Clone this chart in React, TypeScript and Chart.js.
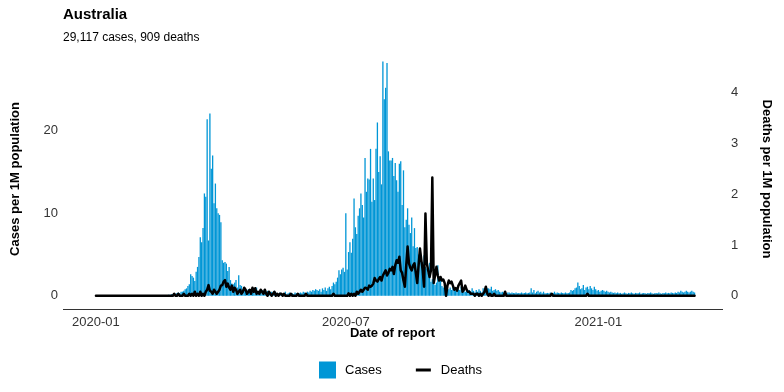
import { useEffect, useRef } from 'react';
import { Chart, registerables } from 'chart.js';

Chart.register(...registerables);

const FONT = '"Liberation Sans", Arial, Helvetica, sans-serif';
const CASE_COLOR = '#0096d6';

const TITLE = 'Australia';
const SUBTITLE = '29,117 cases, 909 deaths';
const X_TITLE = 'Date of report';
const Y_TITLE = 'Cases per 1M population';
const Y1_TITLE = 'Deaths per 1M population';
const SERIES_LABELS = ['Cases', 'Deaths'];

// first data point = 2020-01-01, expressed as days since 2020-01-01
const START_DAY = 0;
const xTickDays = [0, 182, 366];
const xTickLabels = ['2020-01', '2020-07', '2021-01'];
const casesTicks = [0, 10, 20];
const deathsTicks = [0, 1, 2, 3, 4];

// daily cases per 1M population
const cases = [
  0, 0, 0, 0, 0, 0, 0, 0, 0, 0,
  0, 0, 0, 0, 0, 0, 0, 0, 0, 0,
  0, 0, 0, 0, 0.04, 0, 0, 0.04, 0, 0,
  0.04, 0, 0, 0, 0, 0, 0, 0, 0, 0,
  0.04, 0, 0, 0, 0, 0.04, 0, 0, 0, 0.1,
  0.04, 0.08, 0.04, 0.12, 0.08, 0.2, 0.16, 0.3, 0.2, 0.35,
  0.4, 0.3, 0.5, 0.5, 0.6, 0.8, 0.9, 1.2, 1.4, 2.6,
  2.4, 2.2, 1.8, 2.9, 3.5, 4.7, 7.1, 6.5, 8.2, 12.4,
  12.0, 21.4, 6.7, 22.1, 15.4, 17.0, 11.2, 13.6, 10.6, 10.0,
  9.8, 8.9, 4.3, 4.0, 4.1, 3.9, 3.0, 3.5, 1.9, 1.5,
  1.4, 1.6, 1.9, 1.0, 2.5, 1.3, 1.2, 0.8, 0.9, 0.7,
  0.6, 0.8, 0.5, 0.7, 0.4, 0.9, 0.6, 1.0, 0.5, 0.6,
  0.4, 0.7, 0.3, 0.5, 0.4, 0.6, 0.3, 0.4, 0.5, 0.3,
  0.6, 0.4, 0.3, 0.2, 0.4, 0.3, 0.2, 0.3, 0.5, 0.2,
  0.3, 0.4, 0.2, 0.3, 0.2, 0.4, 0.3, 0.2, 0.3, 0.4,
  0.3, 0.5, 0.4, 0.3, 0.5, 0.4, 0.6, 0.5, 0.7, 0.6,
  0.8, 0.7, 0.6, 0.8, 0.5, 0.9, 0.7, 1.0, 0.6, 0.9,
  1.1, 0.8, 1.2, 1.6, 1.4, 1.7, 2.2, 3.1, 2.6, 3.2,
  3.4, 2.9, 10.0, 3.2, 5.3, 6.5, 5.2, 6.9, 11.8, 8.3,
  7.5, 9.7, 10.6, 12.4, 11.0, 9.5, 16.7, 12.6, 14.2, 14.1,
  17.8, 11.4, 14.2, 11.6, 17.8, 21.0, 15.0, 16.9, 13.5, 28.4,
  23.8, 25.2, 28.2, 17.5, 16.4, 16.4, 16.7, 14.5, 16.1, 14.0,
  12.6, 16.0, 16.3, 11.0, 15.2, 8.3, 9.2, 10.6, 8.6, 7.6,
  9.5, 6.0, 8.2, 5.8, 5.9, 5.0, 5.8, 4.5, 4.1, 4.9,
  3.5, 3.3, 2.8, 4.0, 1.7, 2.0, 1.5, 1.3, 1.6, 3.7,
  1.8, 2.1, 1.2, 1.0, 1.1, 0.9, 1.3, 0.8, 1.0, 0.7,
  1.2, 0.9, 0.6, 1.0, 0.8, 0.7, 1.1, 0.6, 0.9, 0.5,
  0.8, 0.6, 0.7, 0.5, 0.9, 0.6, 0.4, 0.7, 0.5, 0.8,
  0.6, 0.4, 0.9, 0.7, 0.5, 0.9, 0.9, 0.8, 1.1, 0.6,
  0.7, 0.8, 0.6, 0.7, 0.5, 0.4, 0.5, 0.4, 0.5, 0.3,
  0.4, 0.4, 0.3, 0.4, 0.35, 0.3, 0.4, 0.3, 0.35, 0.3,
  0.4, 0.3, 0.35, 0.4, 0.3, 0.35, 0.4, 0.9, 0.4, 0.7,
  0.3, 0.5, 0.6, 0.4, 0.5, 0.3, 0.5, 0.3, 0.3, 0.35,
  0.3, 0.4, 0.3, 0.35, 0.5, 0.3, 0.4, 0.35, 0.3, 0.4,
  0.35, 0.3, 0.4, 0.3, 0.35, 0.4, 0.7, 0.6, 0.7, 0.9,
  1.0, 1.6, 1.2, 0.8, 0.9, 1.3, 0.7, 1.0, 1.1, 0.8,
  1.2, 0.9, 0.7, 1.1, 0.8, 0.6, 0.7, 0.5, 0.6, 0.7,
  0.6, 0.5, 0.6, 0.5, 0.4, 0.5, 0.4, 0.35, 0.4, 0.3,
  0.4, 0.3, 0.35, 0.25, 0.3, 0.4, 0.3, 0.25, 0.35, 0.3,
  0.4, 0.3, 0.25, 0.35, 0.3, 0.3, 0.4, 0.25, 0.3, 0.35,
  0.3, 0.25, 0.35, 0.3, 0.4, 0.3, 0.25, 0.3, 0.35, 0.3,
  0.4, 0.3, 0.25, 0.35, 0.3, 0.4, 0.3, 0.35, 0.3, 0.4,
  0.35, 0.3, 0.4, 0.35, 0.5, 0.4, 0.6, 0.5, 0.4, 0.5,
  0.6, 0.5, 0.4, 0.5, 0.6, 0.5, 0.4,
];

// daily deaths per 1M population
const deaths = [
  0, 0, 0, 0, 0, 0, 0, 0, 0, 0,
  0, 0, 0, 0, 0, 0, 0, 0, 0, 0,
  0, 0, 0, 0, 0, 0, 0, 0, 0, 0,
  0, 0, 0, 0, 0, 0, 0, 0, 0, 0,
  0, 0, 0, 0, 0, 0, 0, 0, 0, 0,
  0, 0, 0, 0, 0, 0, 0, 0.04, 0, 0,
  0.04, 0, 0, 0, 0.04, 0, 0, 0, 0.04, 0,
  0.04, 0, 0.08, 0, 0.04, 0, 0.08, 0, 0.04, 0,
  0.08, 0.12, 0.21, 0.1, 0.08, 0.04, 0.12, 0.08, 0.04, 0.08,
  0.12, 0.2, 0.21, 0.28, 0.31, 0.18, 0.24, 0.16, 0.12, 0.2,
  0.08, 0.16, 0.12, 0.04, 0.08, 0.12, 0.04, 0.08, 0.16, 0.12,
  0.04, 0.08, 0.12, 0.04, 0.16, 0.08, 0.15, 0.04, 0.08, 0.04,
  0.12, 0.08, 0.04, 0.12, 0.04, 0, 0.08, 0.04, 0, 0.04,
  0.08, 0, 0.04, 0, 0.04, 0.04, 0, 0.04, 0, 0,
  0, 0, 0.04, 0, 0, 0, 0, 0.04, 0, 0,
  0, 0, 0, 0.04, 0, 0, 0, 0, 0, 0,
  0, 0, 0, 0, 0, 0, 0, 0, 0, 0,
  0, 0, 0, 0.04, 0, 0, 0, 0, 0, 0,
  0, 0, 0, 0, 0.05, 0, 0.04, 0, 0.04, 0,
  0.08, 0.04, 0.08, 0.12, 0.08, 0.12, 0.16, 0.15, 0.12, 0.2,
  0.18, 0.2, 0.24, 0.35, 0.3, 0.28, 0.33, 0.37, 0.3, 0.4,
  0.45, 0.5, 0.4, 0.45, 0.53, 0.5, 0.57, 0.43, 0.6, 0.7,
  0.65, 0.77, 0.5, 0.45, 0.3, 0.18, 0.6, 0.97, 0.64, 0.55,
  0.5, 0.6, 0.64, 0.45, 0.25, 0.6, 0.93, 0.7, 0.5, 0.18,
  1.62, 0.64, 0.5, 0.37, 0.5, 2.33, 0.25, 0.4, 0.57, 0.4,
  0.3, 0.37, 0.3, 0.32, 0.25, 0, 0.2, 0.3, 0.25, 0.28,
  0.2, 0.12, 0.15, 0.1, 0.2, 0.25, 0.3, 0.08, 0.12, 0.2,
  0.12, 0.08, 0.08, 0.04, 0.04, 0.04, 0, 0.04, 0.04, 0,
  0.04, 0, 0.04, 0.08, 0.18, 0.04, 0, 0.04, 0, 0,
  0.04, 0, 0, 0, 0, 0, 0, 0, 0.08, 0,
  0, 0, 0, 0, 0, 0, 0, 0, 0, 0,
  0, 0, 0, 0, 0, 0, 0, 0, 0, 0,
  0, 0, 0, 0, 0, 0, 0, 0, 0, 0,
  0, 0, 0.04, 0, 0, 0, 0, 0, 0, 0,
  0, 0, 0, 0, 0, 0, 0, 0, 0, 0,
  0, 0, 0, 0, 0, 0, 0, 0, 0.04, 0,
  0, 0, 0, 0, 0, 0, 0, 0, 0, 0,
  0, 0, 0, 0, 0, 0, 0, 0, 0, 0,
  0, 0, 0, 0, 0, 0, 0, 0, 0, 0,
  0, 0, 0, 0, 0, 0, 0, 0, 0, 0,
  0, 0, 0, 0, 0, 0, 0, 0, 0, 0,
  0, 0, 0, 0, 0, 0, 0, 0, 0, 0,
  0, 0, 0, 0, 0, 0, 0, 0, 0, 0,
  0, 0, 0, 0, 0, 0, 0,
];

const legendPlugin = {
  id: 'bottomLegend',
  afterDraw(chart: any) {
    const c = chart.ctx as CanvasRenderingContext2D;
    const ds = chart.data.datasets;
    const y = 370;
    c.save();
    c.font = `13px ${FONT}`;
    c.textBaseline = 'middle';
    c.textAlign = 'left';
    c.fillStyle = ds[0].backgroundColor;
    c.fillRect(319, y - 8.5, 17, 17);
    c.fillStyle = '#000';
    const t1 = ds[0].label;
    c.fillText(t1, 345, y);
    const x2 = 345 + c.measureText(t1).width + 34;
    c.strokeStyle = ds[1].borderColor;
    c.lineWidth = 3;
    c.beginPath();
    c.moveTo(x2, y);
    c.lineTo(x2 + 15, y);
    c.stroke();
    c.fillStyle = '#000';
    c.fillText(ds[1].label, x2 + 25, y);
    c.restore();
  },
};

export default function App() {
  const ref = useRef<HTMLCanvasElement>(null);

  useEffect(() => {
    document.body.style.margin = '0';
    const canvas = ref.current;
    if (!canvas) return;
    const casesPts = cases.map((v, i) => ({ x: START_DAY + i, y: v }));
    const deathsPts = deaths.map((v, i) => ({ x: START_DAY + i, y: v }));

    const tickFont = { family: FONT, size: 13 };
    const titleFont = { family: FONT, size: 13, weight: 'bold' as const };

    const chart = new Chart(canvas, {
      type: 'bar',
      data: {
        datasets: [
          {
            type: 'bar',
            label: SERIES_LABELS[0],
            data: casesPts as any,
            yAxisID: 'y',
            backgroundColor: CASE_COLOR,
            borderWidth: 0,
            barPercentage: 0.95,
            categoryPercentage: 1,
            order: 2,
          },
          {
            type: 'line',
            label: SERIES_LABELS[1],
            data: deathsPts as any,
            yAxisID: 'y1',
            borderColor: '#000000',
            backgroundColor: '#000000',
            borderWidth: 2.5,
            borderJoinStyle: 'round',
            borderCapStyle: 'round',
            pointRadius: 0,
            tension: 0,
            fill: false,
            order: 1,
          },
        ],
      },
      options: {
        responsive: false,
        animation: false,
        devicePixelRatio: 1,
        events: [],
        layout: { padding: { left: 0, right: 0, top: 0, bottom: 51 } },
        plugins: {
          legend: { display: false },
          tooltip: { enabled: false },
          title: {
            display: true,
            text: TITLE,
            align: 'start',
            fullSize: false,
            color: '#000',
            font: { family: FONT, size: 15, weight: 'bold' },
            padding: { top: 6, bottom: 6 },
          },
          subtitle: {
            display: true,
            text: SUBTITLE,
            align: 'start',
            fullSize: false,
            color: '#000',
            font: { family: FONT, size: 12 },
            padding: { top: 0, bottom: 4.6 },
          },
        },
        scales: {
          x: {
            type: 'linear',
            min: -24,
            max: 456,
            offset: false,
            grid: { display: false, drawTicks: false },
            border: { display: true, color: '#333333', width: 1 },
            afterBuildTicks: (s: any) => {
              s.ticks = xTickDays.map((v) => ({ value: v }));
            },
            afterFit: (s: any) => {
              s.height = 32;
            },
            ticks: {
              autoSkip: false,
              maxRotation: 0,
              padding: 6,
              color: '#333333',
              font: tickFont,
              callback: (_v: any, i: number) => xTickLabels[i],
            },
            title: {
              display: true,
              text: X_TITLE,
              color: '#000',
              font: titleFont,
              padding: { top: 0, bottom: 0 },
            },
          },
          y: {
            type: 'linear',
            position: 'left',
            min: -1.6,
            max: 29.9,
            grid: { display: false, drawTicks: false },
            border: { display: false },
            afterBuildTicks: (s: any) => {
              s.ticks = casesTicks.map((v) => ({ value: v }));
            },
            afterFit: (s: any) => {
              s.width = 63;
            },
            ticks: { padding: 5, color: '#333333', font: tickFont },
            title: {
              display: true,
              text: Y_TITLE,
              color: '#000',
              font: titleFont,
              padding: { top: 8, bottom: 0 },
            },
          },
          y1: {
            type: 'linear',
            position: 'right',
            min: -0.26,
            max: 4.86,
            grid: { display: false, drawTicks: false },
            border: { display: false },
            afterBuildTicks: (s: any) => {
              s.ticks = deathsTicks.map((v) => ({ value: v }));
            },
            afterFit: (s: any) => {
              s.width = 62;
            },
            ticks: { padding: 9, color: '#333333', font: tickFont },
            title: {
              display: true,
              text: Y1_TITLE,
              color: '#000',
              font: titleFont,
              padding: { top: 10, bottom: 0 },
            },
          },
        },
      },
      plugins: [legendPlugin],
    });

    return () => chart.destroy();
  }, []);

  return (
    <div style={{ width: 784, height: 392 }}>
      <canvas ref={ref} width={784} height={392} style={{ display: 'block' }} />
    </div>
  );
}
